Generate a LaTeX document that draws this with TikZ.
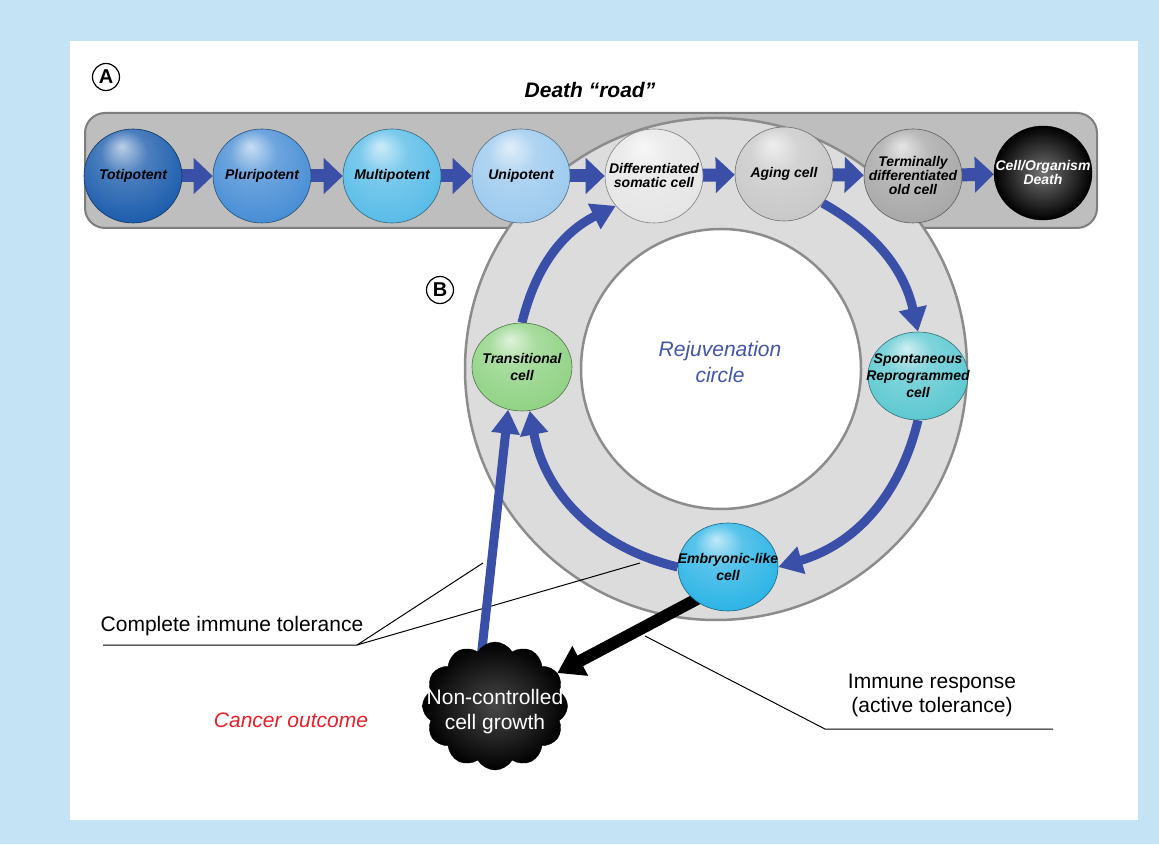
\documentclass[tikz,border=0pt]{standalone}
\usepackage{fontspec}
\setmainfont{Liberation Sans}
\usetikzlibrary{shapes.geometric,shapes.symbols,arrows.meta}
\definecolor{bgblue}{HTML}{C4E3F5}
\definecolor{arrowblue}{HTML}{3A4FA8}
\definecolor{bargray}{HTML}{BEBEBE}
\definecolor{barborder}{HTML}{7E7E7E}
\definecolor{ringgray}{HTML}{DCDCDC}
\definecolor{ringborder}{HTML}{8C8C8C}
\definecolor{cancerred}{HTML}{E8202A}
\definecolor{rejblue}{HTML}{4355A8}
\definecolor{toticol}{HTML}{1F5FAE}
\definecolor{pluricol}{HTML}{4A8FD6}
\definecolor{multicol}{HTML}{5BBDE8}
\definecolor{unicol}{HTML}{9DCAEE}
\definecolor{diffcol}{HTML}{E6E6E6}
\definecolor{agingcol}{HTML}{C9C9C9}
\definecolor{termcol}{HTML}{A9A9A9}
\definecolor{transcol}{HTML}{92D386}
\definecolor{spontcol}{HTML}{5FC9D2}
\definecolor{embcol}{HTML}{2FB5E6}
\colorlet{cellc}{gray}
\pgfdeclareradialshading[cellc]{cellball}{\pgfpoint{-6bp}{16bp}}{%
  color(0bp)=(cellc!30!white); color(12bp)=(cellc!80!white);
  color(30bp)=(cellc); color(44bp)=(cellc!82!black); color(50bp)=(cellc!62!black)}
\pgfdeclarelayer{bg}
\pgfdeclarelayer{conn}
\pgfsetlayers{bg,conn,main}
\tikzset{
  cellcolor/.code={\colorlet{cellc}{#1}},
  cell/.style={ellipse, minimum width=98pt, minimum height=94pt, inner sep=0pt,
    draw=#1!55!black, line width=0.6pt, cellcolor=#1, shading=cellball},
  ringcell/.style={cell=#1, minimum width=100pt, minimum height=88pt},
  deathcell/.style={ellipse, minimum width=98pt, minimum height=94pt, inner sep=0pt,
    draw=black, shading=radial, inner color=black!55, outer color=black},
  celltxt/.style={font=\bfseries\itshape\fontsize{14}{14}\selectfont, align=center,
    inner sep=0pt, text=black},
  ringtxt/.style={celltxt, font=\bfseries\itshape\fontsize{14}{17}\selectfont},
  bararrow/.style={draw=arrowblue, line width=13pt, -{Triangle[width=35pt,length=19pt]},
    shorten <=-3pt},
  ringarrow/.style={draw=arrowblue, line width=9pt, -{Triangle[width=27pt,length=24pt]}},
  blackarrow/.style={draw=black, line width=12pt, -{Triangle[width=32pt,length=26pt]},
    shorten <=-15pt},
  leader/.style={draw=black, line width=1pt},
  lbl/.style={font=\fontsize{21}{24}\selectfont, inner sep=0pt, align=center},
  circlet/.style={circle, draw=black, line width=1.2pt, minimum size=27pt, inner sep=0pt,
    font=\bfseries\fontsize{20}{20}\selectfont}
}
\begin{document}
\begin{tikzpicture}[x=1pt,y=1pt]
\useasboundingbox (0,0) rectangle (1159,844);
\begin{pgfonlayer}{bg}
  \fill[bgblue] (0,0) rectangle (1159,844);
  \fill[white] (70,24) rectangle (1138,803);
  \draw[fill=bargray, draw=barborder, line width=2pt, rounded corners=20pt]
    (85,616) rectangle (1097,731);
  \draw[fill=ringgray, draw=ringborder, line width=2.5pt] (716,475) circle[radius=251];
  \draw[fill=white, draw=ringborder, line width=2.5pt] (721,475) circle[radius=140];
\end{pgfonlayer}

% bar cells
\node[cell=toticol, label={[celltxt]center:Totipotent}] (toti) at (133,668) {};
\node[cell=pluricol, label={[celltxt]center:Pluripotent}] (pluri) at (262,668) {};
\node[cell=multicol, label={[celltxt]center:Multipotent}] (multi) at (392,668) {};
\node[cell=unicol, label={[celltxt]center:Unipotent}] (uni) at (521,668) {};
\node[cell=diffcol, label={[celltxt]center:{Differentiated\\somatic cell}}] (diff) at (654,668) {};
\node[cell=agingcol, label={[celltxt]center:Aging cell}] (aging) at (784,670) {};
\node[cell=termcol, label={[celltxt]center:{Terminally\\differentiated\\old cell}}] (term) at (913,668) {};
\node[deathcell, label={[celltxt, text=white]center:{Cell/Organism\\Death}}] (death) at (1043,671) {};

% ring cells
\node[ringcell=transcol, label={[ringtxt]center:{Transitional\\cell}}] (trans) at (522,477) {};
\node[ringcell=spontcol, label={[ringtxt]center:{Spontaneous\\Reprogrammed\\cell}}] (spont) at (918,468) {};
\node[ringcell=embcol, label={[ringtxt]center:{Embryonic-like\\cell}}] (emb) at (728,277) {};

% cloud
\node[cloud, cloud puffs=12, cloud puff arc=120, aspect=1.1, draw=black,
  shading=radial, inner color=black!72, outer color=black,
  minimum width=145pt, minimum height=128pt, inner sep=0pt] (cloud) at (495,138) {};
\node[lbl, text=white, font=\fontsize{21}{25}\selectfont] (cloudtxt) at (495,132)
  {Non-controlled\\cell growth};

% leader lines
\coordinate (ct1) at (103,199);
\coordinate (ct2) at (357,199);
\coordinate (ct3) at (483,281);
\coordinate (ct4) at (640,281);
\coordinate (ir1) at (645,208);
\coordinate (ir2) at (825,115);
\coordinate (ir3) at (1053,115);

\begin{pgfonlayer}{conn}
  \draw[leader] (ct1) -- (ct2) -- (ct3);
  \draw[leader] (ct2) -- (ct4);
  \draw[leader] (ir1) -- (ir2) -- (ir3);
  \draw[bararrow] (toti) -- (pluri);
  \draw[bararrow] (pluri) -- (multi);
  \draw[bararrow] (multi) -- (uni);
  \draw[bararrow] (uni) -- (diff);
  \draw[bararrow] (diff) -- (aging);
  \draw[bararrow] (aging) -- (term);
  \draw[bararrow] (term) -- (death);
  \draw[ringarrow] (trans.north) to[bend left=25] (diff.218);
  \draw[ringarrow] (aging.-37) to[bend left=24] (spont.north);
  \draw[ringarrow] (spont.south) to[bend left=30] (emb.east);
  \draw[ringarrow] (emb.west) to[bend left=33] (trans.-80);
  \draw[ringarrow, shorten <=-10pt] (cloud.102) -- (trans.252);
  \draw[blackarrow] (emb.225) -- (cloud);
\end{pgfonlayer}

% texts
\node[circlet] (labA) at (106,767) {A};
\node[circlet] (labB) at (440,554) {B};
\node[lbl, font=\bfseries\itshape\fontsize{21}{24}\selectfont] (death road) at (590,754) {Death “road”};
\node[lbl, text=rejblue, font=\itshape\fontsize{21}{26}\selectfont] (rej) at (720,482) {Rejuvenation\\circle};
\node[lbl, anchor=base] (cit) at (232,213) {Complete immune tolerance};
\node[lbl] (irt) at (932,149) {Immune response\\(active tolerance)};
\node[lbl, text=cancerred, font=\itshape\fontsize{21}{24}\selectfont] (cancer) at (291,124) {Cancer outcome};
\end{tikzpicture}
\end{document}
